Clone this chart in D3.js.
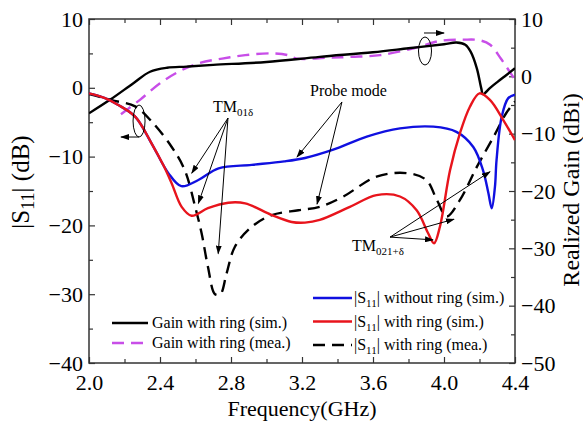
<!DOCTYPE html>
<html>
<head>
<meta charset="utf-8">
<script src="https://cdn.jsdelivr.net/npm/d3@7"></script>
<style>
  body { margin: 0; background: #fff; }
  svg { font-family: "Liberation Serif", "Times New Roman", serif; }
</style>
</head>
<body>
<div class="container"></div>
<script>
// |S11| without ring (sim.), dB
var noRingFreq = [2.0, 2.09, 2.165, 2.26, 2.353, 2.447, 2.52, 2.616, 2.73, 2.917, 3.10, 3.217, 3.376, 3.565, 3.752, 3.94, 4.07, 4.165, 4.22, 4.25, 4.269, 4.287, 4.296, 4.325, 4.362, 4.4];
var noRingSim = [-0.8, -1.5, -2.5, -4.2, -8.1, -12.4, -14.3, -13.4, -11.7, -11.2, -10.7, -10.2, -9.0, -7.1, -5.9, -5.65, -6.4, -8.6, -12.0, -15.3, -17.5, -14.4, -10.5, -4.2, -1.5, -1.0];

// |S11| with ring (sim.), dB
var ringSimFreq = [2.0, 2.09, 2.165, 2.26, 2.353, 2.42, 2.466, 2.522, 2.578, 2.67, 2.785, 2.88, 3.03, 3.142, 3.217, 3.30, 3.47, 3.62, 3.752, 3.846, 3.91, 3.944, 3.977, 4.034, 4.09, 4.146, 4.20, 4.26, 4.334, 4.4];
var ringSim = [-0.8, -1.5, -2.5, -4.2, -8.1, -11.3, -13.9, -17.3, -18.6, -17.5, -16.7, -16.8, -18.5, -19.5, -19.6, -19.2, -17.3, -15.6, -15.8, -17.8, -21.1, -22.6, -20.2, -12.0, -6.6, -2.75, -0.8, -1.8, -4.7, -7.6];

// |S11| with ring (mea.), dB
var ringMeaFreq = [2.0, 2.06, 2.128, 2.26, 2.353, 2.466, 2.54, 2.60, 2.635, 2.67, 2.71, 2.74, 2.775, 2.822, 2.917, 3.03, 3.18, 3.30, 3.433, 3.62, 3.79, 3.90, 3.96, 4.015, 4.09, 4.185, 4.28, 4.35, 4.4];
var ringMea = [-0.9, -1.3, -1.8, -2.7, -4.9, -8.6, -12.0, -17.5, -21.2, -26.0, -30.0, -30.0, -27.0, -23.1, -20.2, -18.5, -17.8, -17.3, -15.8, -12.9, -12.4, -13.4, -16.3, -18.7, -16.3, -11.5, -7.1, -3.7, -2.0];

// Realized gain with ring (sim.), dBi
var gainSimFreq = [2.0, 2.118, 2.25, 2.344, 2.44, 2.55, 2.7, 3.0, 3.3, 3.6, 3.8, 4.0, 4.07, 4.12, 4.15, 4.185, 4.21, 4.22, 4.26, 4.3, 4.35, 4.4];
var gainSim = [-6.45, -4.1, -1.2, 0.8, 1.5, 1.7, 2.0, 2.5, 3.4, 4.2, 4.9, 5.6, 5.9, 5.5, 4.3, 1.4, -2.1, -3.1, -2.0, -1.0, 0.2, 1.4];

// Realized gain with ring (mea.), dBi
var gainMeaFreq = [2.18, 2.287, 2.40, 2.51, 2.62, 2.75, 2.88, 3.03, 3.12, 3.17, 3.35, 3.48, 3.64, 3.83, 3.98, 4.11, 4.2, 4.26, 4.32, 4.37, 4.4];
var gainMea = [-6.6, -4.1, -1.2, 0.9, 2.3, 3.1, 3.7, 4.0, 3.7, 3.1, 3.25, 3.4, 3.7, 4.9, 6.2, 6.4, 6.3, 5.5, 3.1, 0.8, -0.6];

var xTicks = [2.0, 2.4, 2.8, 3.2, 3.6, 4.0, 4.4];
var xMinorTicks = [2.2, 2.6, 3.0, 3.4, 3.8, 4.2];
var s11Ticks = [10, 0, -10, -20, -30, -40];
var s11MinorTicks = [5, -5, -15, -25, -35];
var gainTicks = [10, 0, -10, -20, -30, -40, -50];
var gainMinorTicks = [5, -5, -15, -25, -35, -45];

const WIDTH = 583;
const HEIGHT = 424;
const LEFT = 89;
const RIGHT = 515;
const TOP = 19;
const BOTTOM = 363;

var _svg, _x, _yL, _yR;

var onload = function () {
  _svg = d3.select('.container').append('svg')
    .attr('width', WIDTH)
    .attr('height', HEIGHT);

  _x = d3.scaleLinear().domain([2.0, 4.4]).range([LEFT, RIGHT]);
  _yL = d3.scaleLinear().domain([-40, 10]).range([BOTTOM, TOP]);
  _yR = d3.scaleLinear().domain([-50, 10]).range([BOTTOM, TOP]);

  var defs = _svg.append('defs');
  defs.append('clipPath').attr('id', 'plot')
    .append('rect')
    .attr('x', LEFT).attr('y', TOP)
    .attr('width', RIGHT - LEFT).attr('height', BOTTOM - TOP);
  defs.append('marker').attr('id', 'head')
    .attr('markerUnits', 'userSpaceOnUse')
    .attr('markerWidth', 9).attr('markerHeight', 6)
    .attr('refX', 8).attr('refY', 3)
    .attr('orient', 'auto')
    .append('path').attr('d', 'M0,0 L9,3 L0,6 Z').attr('fill', '#000');

  drawAxes();
  drawCurves();
  drawNotes();
  drawLegend();
};

var styleAxis = function (g, size) {
  g.select('.domain').remove();
  g.selectAll('line').attr('stroke', '#333').attr('stroke-width', 1.2);
  g.selectAll('text').attr('font-size', size).attr('fill', '#000')
    .attr('font-family', '"Liberation Serif", "Times New Roman", serif');
};

var drawAxes = function () {
  var fmt = d3.format('.1f');

  _svg.append('g').attr('transform', 'translate(0,' + BOTTOM + ')')
    .call(d3.axisBottom(_x).tickValues(xTicks).tickFormat(fmt).tickSize(-6).tickPadding(11))
    .call(styleAxis, 22);
  _svg.append('g').attr('transform', 'translate(0,' + BOTTOM + ')')
    .call(d3.axisBottom(_x).tickValues(xMinorTicks).tickFormat('').tickSize(-4))
    .call(styleAxis, 22);
  _svg.append('g').attr('transform', 'translate(0,' + TOP + ')')
    .call(d3.axisTop(_x).tickValues(xTicks).tickFormat('').tickSize(-6))
    .call(styleAxis, 22);
  _svg.append('g').attr('transform', 'translate(0,' + TOP + ')')
    .call(d3.axisTop(_x).tickValues(xMinorTicks).tickFormat('').tickSize(-4))
    .call(styleAxis, 22);

  _svg.append('g').attr('transform', 'translate(' + LEFT + ',0)')
    .call(d3.axisLeft(_yL).tickValues(s11Ticks).tickFormat(d3.format('d')).tickSize(-6).tickPadding(6))
    .call(styleAxis, 22);
  _svg.append('g').attr('transform', 'translate(' + LEFT + ',0)')
    .call(d3.axisLeft(_yL).tickValues(s11MinorTicks).tickFormat('').tickSize(-4))
    .call(styleAxis, 22);

  _svg.append('g').attr('transform', 'translate(' + RIGHT + ',0)')
    .call(d3.axisRight(_yR).tickValues(gainTicks).tickFormat(d3.format('d')).tickSize(-6).tickPadding(6))
    .call(styleAxis, 22);
  _svg.append('g').attr('transform', 'translate(' + RIGHT + ',0)')
    .call(d3.axisRight(_yR).tickValues(gainMinorTicks).tickFormat('').tickSize(-4))
    .call(styleAxis, 22);

  _svg.append('rect')
    .attr('x', LEFT).attr('y', TOP)
    .attr('width', RIGHT - LEFT).attr('height', BOTTOM - TOP)
    .attr('fill', 'none').attr('stroke', '#333').attr('stroke-width', 1.5);

  // axis titles
  _svg.append('text')
    .attr('x', (LEFT + RIGHT) / 2).attr('y', 416)
    .attr('text-anchor', 'middle').attr('font-size', 22)
    .text('Frequency(GHz)');

  var lt = _svg.append('text')
    .attr('transform', 'translate(29,182) rotate(-90)')
    .attr('text-anchor', 'middle').attr('font-size', 25);
  lt.append('tspan').text('|S');
  lt.append('tspan').attr('font-size', 18).attr('dy', 5).text('11');
  lt.append('tspan').attr('dy', -5).text('| (dB)');

  _svg.append('text')
    .attr('transform', 'translate(579,190) rotate(-90)')
    .attr('text-anchor', 'middle').attr('font-size', 24)
    .text('Realized Gain (dBi)');
};

var drawCurves = function () {
  var g = _svg.append('g').attr('clip-path', 'url(#plot)');
  var curve = d3.curveCatmullRom.alpha(0.5);
  var lineL = d3.line().x(function (d) { return _x(d[0]); })
    .y(function (d) { return _yL(d[1]); }).curve(curve);
  var lineR = d3.line().x(function (d) { return _x(d[0]); })
    .y(function (d) { return _yR(d[1]); }).curve(curve);

  var series = [
    { d: d3.zip(gainMeaFreq, gainMea), line: lineR, color: '#c84ee8', dash: '12,7' },
    { d: d3.zip(gainSimFreq, gainSim), line: lineR, color: '#000', dash: null },
    { d: d3.zip(ringMeaFreq, ringMea), line: lineL, color: '#000', dash: '12,7' },
    { d: d3.zip(noRingFreq, noRingSim), line: lineL, color: '#1010e0', dash: null },
    { d: d3.zip(ringSimFreq, ringSim), line: lineL, color: '#e8141c', dash: null }
  ];

  series.forEach(function (s) {
    g.append('path')
      .attr('d', s.line(s.d))
      .attr('fill', 'none')
      .attr('stroke', s.color)
      .attr('stroke-width', 2.4)
      .attr('stroke-dasharray', s.dash);
  });
};

var arrow = function (x1, y1, x2, y2) {
  _svg.append('line')
    .attr('x1', x1).attr('y1', y1).attr('x2', x2).attr('y2', y2)
    .attr('stroke', '#000').attr('stroke-width', 1)
    .attr('marker-end', 'url(#head)');
};

var subText = function (x, y, main, sub) {
  var t = _svg.append('text').attr('x', x).attr('y', y).attr('font-size', 16);
  t.append('tspan').text(main);
  t.append('tspan').attr('font-size', 11).attr('dy', 4).text(sub);
};

var drawNotes = function () {
  // curve-group markers
  var lx = _x(2.282), ly = _yL(-4.83);
  _svg.append('ellipse').attr('cx', lx).attr('cy', ly).attr('rx', 6).attr('ry', 16)
    .attr('fill', 'none').attr('stroke', '#000').attr('stroke-width', 1);
  arrow(lx, ly + 16, lx - 18, ly + 16);

  var rx = _x(3.893), ry = _yR(4.42);
  _svg.append('ellipse').attr('cx', rx).attr('cy', ry).attr('rx', 6.5).attr('ry', 14)
    .attr('fill', 'none').attr('stroke', '#000').attr('stroke-width', 1);
  arrow(rx - 1, ry - 18, rx + 19, ry - 18);

  // TM01δ
  subText(213, 112, 'TM', '01δ');
  var o = [_x(2.783), _yL(-4.4)];
  [[2.579, -12.4], [2.616, -16.8], [2.728, -24.1]].forEach(function (p) {
    arrow(o[0], o[1], _x(p[0]), _yL(p[1]));
  });

  // Probe mode
  _svg.append('text').attr('x', 310).attr('y', 96).attr('font-size', 16).text('Probe mode');
  o = [_x(3.425), _yL(-2.06)];
  [[3.172, -10.06], [3.285, -16.9]].forEach(function (p) {
    arrow(o[0], o[1], _x(p[0]), _yL(p[1]));
  });

  // TM021+δ
  subText(352, 251, 'TM', '021+δ');
  o = [_x(3.696), _yL(-21.7)];
  [[3.938, -22.1], [4.056, -19.1], [4.259, -12.2]].forEach(function (p) {
    arrow(o[0], o[1], _x(p[0]), _yL(p[1]));
  });
};

var drawLegend = function () {
  var left = [
    { label: 'Gain with ring (sim.)', color: '#000', dash: null, y: 323 },
    { label: 'Gain with ring (mea.)', color: '#c84ee8', dash: '12,7', y: 343 }
  ];
  left.forEach(function (l) {
    _svg.append('line').attr('x1', 112).attr('x2', 148).attr('y1', l.y).attr('y2', l.y)
      .attr('stroke', l.color).attr('stroke-width', 2.5).attr('stroke-dasharray', l.dash);
    _svg.append('text').attr('x', 152).attr('y', l.y + 5).attr('font-size', 16).text(l.label);
  });

  var right = [
    { label: ' without ring (sim.)', color: '#1010e0', dash: null, y: 298 },
    { label: ' with ring (sim.)', color: '#e8141c', dash: null, y: 321.5 },
    { label: ' with ring (mea.)', color: '#000', dash: '12,7', y: 345 }
  ];
  right.forEach(function (l) {
    _svg.append('line').attr('x1', 313).attr('x2', 352).attr('y1', l.y).attr('y2', l.y)
      .attr('stroke', l.color).attr('stroke-width', 2.5).attr('stroke-dasharray', l.dash);
    var t = _svg.append('text').attr('x', 354).attr('y', l.y + 5).attr('font-size', 16);
    t.append('tspan').text('|S');
    t.append('tspan').attr('font-size', 11).attr('dy', 4).text('11');
    t.append('tspan').attr('dy', -4).text('|' + l.label);
  });
};

window.onload = onload;
</script>
</body>
</html>
